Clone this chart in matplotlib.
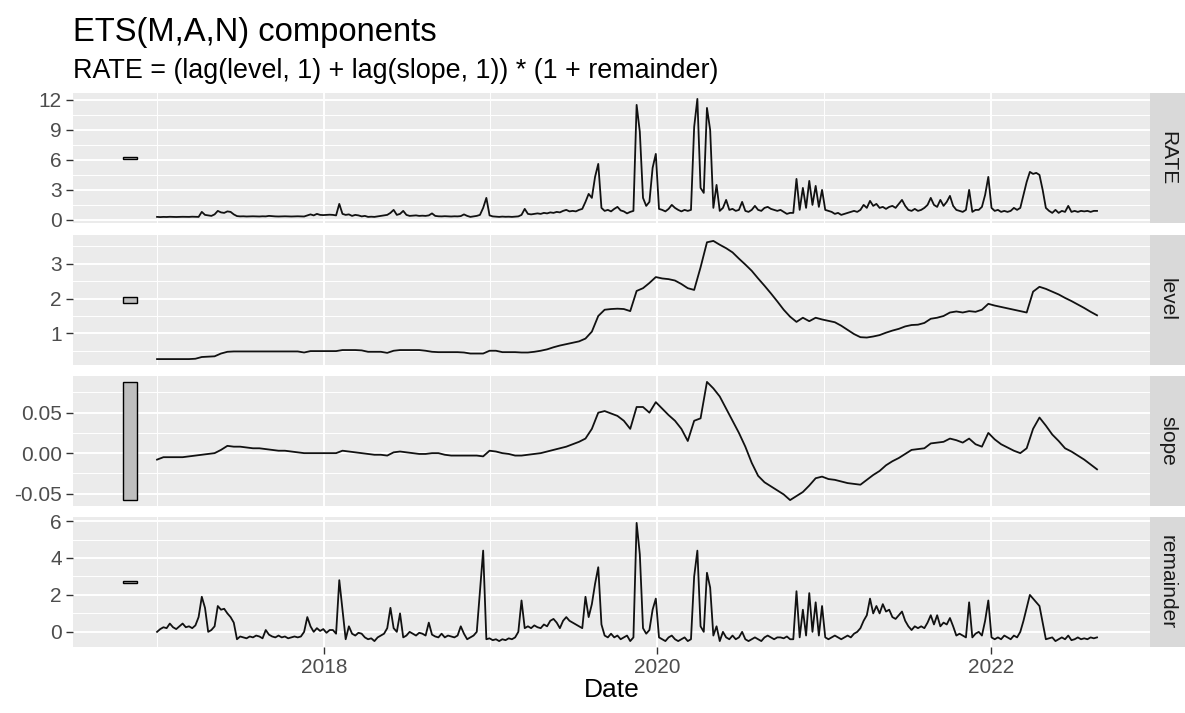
import numpy as np
import pandas as pd
import matplotlib
matplotlib.use("Agg")
import matplotlib.pyplot as plt

plt.rcParams['font.family'] = ['Liberation Sans', 'DejaVu Sans']

# --- Data ---
start_date = "2017-01-01"

# weekly series
rate = [
    0.30, 0.28, 0.30, 0.29, 0.31, 0.30, 0.29, 0.30, 0.31, 0.30,
    0.30, 0.32, 0.31, 0.30, 0.80, 0.50, 0.45, 0.40, 0.55, 0.90,
    0.75, 0.70, 0.85, 0.80, 0.55, 0.38, 0.35, 0.36, 0.34, 0.35,
    0.36, 0.35, 0.34, 0.36, 0.35, 0.40, 0.37, 0.35, 0.34, 0.35,
    0.36, 0.35, 0.34, 0.35, 0.36, 0.35, 0.34, 0.45, 0.55, 0.45,
    0.60, 0.50, 0.48, 0.50, 0.52, 0.50, 0.45, 1.60, 0.60, 0.50,
    0.55, 0.40, 0.50, 0.45, 0.35, 0.40, 0.30, 0.32, 0.30, 0.35,
    0.40, 0.45, 0.50, 0.70, 1.00, 0.50, 0.60, 0.90, 0.50, 0.40,
    0.42, 0.45, 0.40, 0.42, 0.40, 0.45, 0.65, 0.40, 0.36, 0.35,
    0.37, 0.35, 0.34, 0.36, 0.35, 0.38, 0.55, 0.40, 0.30, 0.35,
    0.40, 0.50, 1.20, 2.20, 0.45, 0.35, 0.32, 0.30, 0.33, 0.31,
    0.32, 0.30, 0.33, 0.35, 0.50, 1.10, 0.60, 0.55, 0.60, 0.65,
    0.60, 0.70, 0.65, 0.75, 0.70, 0.80, 0.75, 0.90, 1.00, 0.85,
    0.90, 0.85, 1.00, 1.10, 1.80, 2.60, 2.20, 4.30, 5.60, 1.20,
    0.90, 1.00, 0.85, 1.10, 1.30, 0.95, 0.85, 0.65, 0.80, 0.90,
    11.5, 8.80, 2.20, 1.40, 1.80, 5.20, 6.60, 1.10, 1.00, 0.85,
    1.10, 1.50, 1.20, 1.00, 0.85, 1.00, 0.90, 1.00, 9.30, 12.1,
    3.20, 2.70, 11.2, 9.00, 1.20, 3.50, 0.90, 1.20, 2.00, 1.00,
    1.10, 0.90, 1.00, 1.80, 0.90, 0.80, 1.00, 1.40, 1.00, 0.90,
    1.20, 1.30, 1.10, 1.00, 0.90, 1.00, 0.80, 0.60, 0.70, 0.70,
    4.10, 1.00, 3.20, 1.20, 3.90, 1.50, 3.40, 1.30, 3.00, 1.00,
    0.90, 0.80, 0.60, 0.70, 0.50, 0.60, 0.70, 0.80, 0.90, 0.80,
    1.00, 1.50, 1.20, 1.90, 1.40, 1.60, 1.20, 1.30, 1.10, 1.30,
    1.40, 1.20, 1.60, 2.00, 1.40, 1.00, 0.90, 1.10, 0.90, 1.00,
    1.20, 1.50, 2.20, 1.50, 1.30, 2.00, 1.40, 1.80, 2.40, 1.40,
    1.00, 0.90, 0.80, 1.00, 3.00, 0.80, 1.00, 1.00, 1.30, 2.50,
    4.30, 1.20, 0.90, 1.00, 0.80, 0.90, 0.80, 0.90, 1.20, 1.00,
    1.20, 2.50, 3.80, 4.80, 4.60, 4.70, 4.50, 3.00, 1.20, 0.90,
    0.70, 1.00, 0.70, 0.90, 0.80, 1.40, 0.80, 0.90, 0.80, 0.90,
    0.85, 0.90, 0.80, 0.90, 0.90,
]

remainder = [
    0.00, 0.15, 0.25, 0.20, 0.45, 0.25, 0.15, 0.30, 0.45, 0.25,
    0.30, 0.20, 0.35, 0.80, 1.90, 1.30, 0.00, 0.10, 0.30, 1.40,
    1.20, 1.25, 1.00, 0.80, 0.50, -0.40, -0.25, -0.30, -0.35, -0.25,
    -0.30, -0.20, -0.25, -0.35, 0.10, -0.15, -0.25, -0.30, -0.20, -0.30,
    -0.25, -0.35, -0.30, -0.25, -0.30, -0.25, 0.00, 0.80, 0.30, 0.00,
    0.20, 0.05, 0.15, -0.05, 0.10, 0.10, -0.10, 2.80, 1.20, -0.40,
    0.30, -0.10, -0.20, -0.05, -0.10, -0.30, -0.40, -0.35, -0.50, -0.30,
    -0.20, -0.10, 0.20, 1.30, 0.20, 0.00, 1.00, -0.30, -0.20, 0.00,
    -0.10, -0.20, -0.05, -0.10, -0.20, 0.50, -0.15, -0.25, -0.30, -0.10,
    -0.30, -0.20, -0.25, -0.30, -0.20, 0.30, -0.10, -0.40, -0.30, -0.20,
    0.00, 2.20, 4.40, -0.40, -0.35, -0.45, -0.40, -0.50, -0.40, -0.45,
    -0.35, -0.40, -0.30, 0.00, 1.70, 0.20, 0.30, 0.20, 0.35, 0.25,
    0.20, 0.40, 0.30, 0.60, 0.70, 0.50, 0.20, 0.60, 0.80, 0.60,
    0.50, 0.40, 0.30, 0.20, 1.90, 0.80, 1.50, 2.60, 3.50, 0.40,
    -0.20, -0.30, -0.10, -0.30, -0.20, -0.40, -0.30, -0.20, -0.50, -0.30,
    5.90, 4.20, 0.20, -0.10, 0.10, 1.20, 1.80, -0.30, -0.40, -0.50,
    -0.30, -0.20, -0.40, -0.50, -0.40, -0.30, -0.50, -0.40, 3.00, 4.40,
    0.30, 0.00, 3.20, 2.40, -0.20, 0.30, -0.50, 0.00, -0.30, -0.40,
    -0.20, -0.40, -0.30, 0.00, -0.40, -0.50, -0.40, -0.30, -0.40, -0.50,
    -0.30, -0.20, -0.30, -0.40, -0.30, -0.30, -0.35, -0.25, -0.40, -0.40,
    2.20, -0.30, 1.20, -0.20, 2.10, 0.00, 1.60, -0.20, 1.40, -0.30,
    -0.40, -0.30, -0.20, -0.30, -0.40, -0.30, -0.20, -0.30, -0.10, 0.00,
    0.20, 0.60, 0.90, 1.80, 1.00, 1.40, 1.00, 1.50, 1.10, 1.20,
    0.80, 0.70, 0.90, 1.10, 0.60, 0.30, 0.10, 0.30, 0.20, 0.30,
    0.20, 0.50, 0.90, 0.40, 0.90, 0.30, 0.50, 0.40, 0.75, 0.30,
    -0.20, -0.10, -0.20, -0.30, 1.60, -0.30, -0.10, 0.00, -0.20, 0.60,
    1.70, -0.30, -0.40, -0.30, -0.40, -0.20, -0.30, -0.40, -0.20, -0.30,
    0.00, 0.60, 1.30, 2.00, 1.80, 1.60, 1.40, 0.50, -0.40, -0.35,
    -0.30, -0.50, -0.40, -0.30, -0.40, -0.20, -0.45, -0.40, -0.30, -0.40,
    -0.35, -0.40, -0.30, -0.35, -0.30,
]

# fortnightly series (every second week)
level = [
    0.26, 0.26, 0.26, 0.26, 0.26, 0.26, 0.27, 0.32, 0.33, 0.34,
    0.42, 0.47, 0.48, 0.48, 0.48, 0.48, 0.48, 0.48, 0.48, 0.48,
    0.48, 0.48, 0.48, 0.45, 0.49, 0.49, 0.49, 0.49, 0.49, 0.52,
    0.52, 0.52, 0.51, 0.47, 0.47, 0.47, 0.44, 0.50, 0.52, 0.52,
    0.52, 0.52, 0.50, 0.47, 0.46, 0.46, 0.46, 0.46, 0.45, 0.42,
    0.42, 0.42, 0.50, 0.50, 0.46, 0.46, 0.46, 0.45, 0.45, 0.47,
    0.50, 0.54, 0.60, 0.65, 0.69, 0.73, 0.77, 0.85, 1.05, 1.50,
    1.68, 1.70, 1.71, 1.70, 1.64, 2.22, 2.30, 2.45, 2.62, 2.58,
    2.56, 2.52, 2.42, 2.30, 2.25, 2.90, 3.62, 3.66, 3.55, 3.45,
    3.33, 3.15, 2.98, 2.80, 2.58, 2.37, 2.15, 1.92, 1.68, 1.48,
    1.33, 1.45, 1.35, 1.45, 1.40, 1.36, 1.32, 1.22, 1.10, 0.98,
    0.89, 0.88, 0.91, 0.95, 1.02, 1.08, 1.13, 1.20, 1.24, 1.25,
    1.30, 1.42, 1.45, 1.50, 1.60, 1.63, 1.60, 1.64, 1.62, 1.68,
    1.85, 1.80, 1.76, 1.72, 1.68, 1.64, 1.60, 2.20, 2.34, 2.28,
    2.20, 2.12, 2.02, 1.93, 1.83, 1.73, 1.62, 1.52,
]

slope = [
    -0.008, -0.005, -0.005, -0.005, -0.005, -0.004, -0.003, -0.002, -0.001, 0.000,
    0.004, 0.009, 0.008, 0.008, 0.007, 0.006, 0.006, 0.005, 0.004, 0.003,
    0.003, 0.002, 0.001, 0.000, 0.000, 0.000, 0.000, 0.000, 0.000, 0.003,
    0.002, 0.001, 0.000, -0.001, -0.002, -0.002, -0.003, 0.001, 0.002, 0.001,
    0.000, -0.001, -0.001, 0.000, 0.000, -0.002, -0.003, -0.003, -0.003, -0.003,
    -0.003, -0.004, 0.003, 0.002, 0.000, -0.001, -0.003, -0.003, -0.002, -0.001,
    0.000, 0.002, 0.004, 0.006, 0.008, 0.011, 0.014, 0.018, 0.030, 0.050,
    0.052, 0.049, 0.046, 0.040, 0.030, 0.057, 0.057, 0.050, 0.063, 0.055,
    0.047, 0.040, 0.030, 0.015, 0.040, 0.043, 0.088, 0.080, 0.070, 0.055,
    0.040, 0.025, 0.008, -0.012, -0.028, -0.036, -0.041, -0.046, -0.051, -0.058,
    -0.053, -0.048, -0.040, -0.031, -0.029, -0.032, -0.033, -0.035, -0.037, -0.038,
    -0.039, -0.033, -0.027, -0.022, -0.015, -0.010, -0.006, -0.001, 0.004, 0.005,
    0.006, 0.012, 0.013, 0.014, 0.018, 0.016, 0.013, 0.018, 0.011, 0.008,
    0.025, 0.017, 0.011, 0.007, 0.003, 0.000, 0.006, 0.030, 0.044, 0.034,
    0.023, 0.015, 0.006, 0.002, -0.003, -0.008, -0.014, -0.020,
]

panel_names = ["RATE", "level", "slope", "remainder"]

rate_ticks = [0, 3, 6, 9, 12]
rate_minor = [1.5, 4.5, 7.5, 10.5]
level_ticks = [1, 2, 3]
level_minor = [0.5, 1.5, 2.5, 3.5]
slope_ticks = [-0.05, 0.0, 0.05]
slope_labels = ["-0.05", "0.00", "0.05"]
slope_minor = [-0.025, 0.025, 0.075]
remainder_ticks = [0, 2, 4, 6]
remainder_minor = [1, 3, 5]

year_ticks = ["2018-01-01", "2020-01-01", "2022-01-01"]
year_labels = ["2018", "2020", "2022"]
year_minor = ["2017-01-01", "2019-01-01", "2021-01-01"]

weekly_dates = pd.date_range(start_date, periods=len(rate), freq="7D")
fortnight_dates = weekly_dates[::2]

# --- Layout (pixels of a 1185 x 713 canvas) ---
W, H = 1185, 713
panel_left, panel_right, strip_right = 73, 1150, 1185
panel_tops = [93, 235, 376, 517]
panel_h = 130

def px_rect(x0, y0, x1, y1):
    return [x0 / W, 1 - y1 / H, (x1 - x0) / W, (y1 - y0) / H]

bar_center = pd.Timestamp("2016-11-03")
bar_days = 30
x_lo, x_hi = pd.Timestamp("2016-07-01"), pd.Timestamp("2022-12-15")

fig = plt.figure(figsize=(W / 100, H / 100), dpi=100)

series = [
    (weekly_dates, rate, rate_ticks, None, rate_minor),
    (fortnight_dates, level, level_ticks, None, level_minor),
    (fortnight_dates, slope, slope_ticks, slope_labels, slope_minor),
    (weekly_dates, remainder, remainder_ticks, None, remainder_minor),
]

# scale bar height = range of the smallest-range component
bar_h = max(slope) - min(slope)

for k, (dates, vals, ticks, labels, minor) in enumerate(series):
    top = panel_tops[k]
    ax = fig.add_axes(px_rect(panel_left, top, panel_right, top + panel_h))
    ax.set_facecolor('#EBEBEB')
    for s in ax.spines.values():
        s.set_visible(False)

    vmin, vmax = min(vals), max(vals)
    mid = (vmin + vmax) / 2
    ax.bar(bar_center, bar_h, bottom=mid - bar_h / 2, width=bar_days,
           color='#BEBEBE', edgecolor='black', linewidth=1.0, zorder=3)
    ax.plot(dates, vals, color='#111111', linewidth=1.3, zorder=4)

    lo = min(vmin, mid - bar_h / 2)
    hi = max(vmax, mid + bar_h / 2)
    pad = 0.05 * (hi - lo)
    ax.set_ylim(lo - pad, hi + pad)
    ax.set_xlim(x_lo, x_hi)

    ax.set_yticks(ticks)
    if labels is not None:
        ax.set_yticklabels(labels)
    ax.set_yticks(minor, minor=True)
    ax.set_xticks(pd.to_datetime(year_ticks))
    ax.set_xticks(pd.to_datetime(year_minor), minor=True)

    ax.grid(which='major', color='white', linewidth=1.4)
    ax.grid(which='minor', color='white', linewidth=0.7)
    ax.set_axisbelow(True)

    ax.tick_params(axis='y', which='major', length=5, width=1.0, color='#333333',
                   labelsize=15, labelcolor='#4D4D4D', pad=3)
    ax.tick_params(which='minor', length=0)
    if k == len(series) - 1:
        ax.set_xticklabels(year_labels)
        ax.tick_params(axis='x', which='major', length=5, width=1.0, color='#333333',
                       labelsize=15, labelcolor='#4D4D4D', pad=3)
    else:
        ax.tick_params(axis='x', which='major', length=0, labelbottom=False)

    # facet strip
    sax = fig.add_axes(px_rect(panel_right, top, strip_right, top + panel_h))
    sax.set_facecolor('#D9D9D9')
    sax.set_xticks([])
    sax.set_yticks([])
    for s in sax.spines.values():
        s.set_visible(False)
    sax.text(0.5, 0.5, panel_names[k], rotation=-90, ha='center', va='center',
             fontsize=15, color='#1A1A1A', transform=sax.transAxes)

# --- Titles ---
fig.text(panel_left / W, 1 - 41 / H, "ETS(M,A,N) components",
         fontsize=23.6, va='baseline', ha='left')
fig.text(panel_left / W, 1 - 78 / H,
         "RATE = (lag(level, 1) + lag(slope, 1)) * (1 + remainder)",
         fontsize=19.4, va='baseline', ha='left')
fig.text((panel_left + panel_right) / 2 / W, 1 - 690 / H, "Date",
         fontsize=19, ha='center', va='center')

fig.savefig('out.png', dpi=100)
